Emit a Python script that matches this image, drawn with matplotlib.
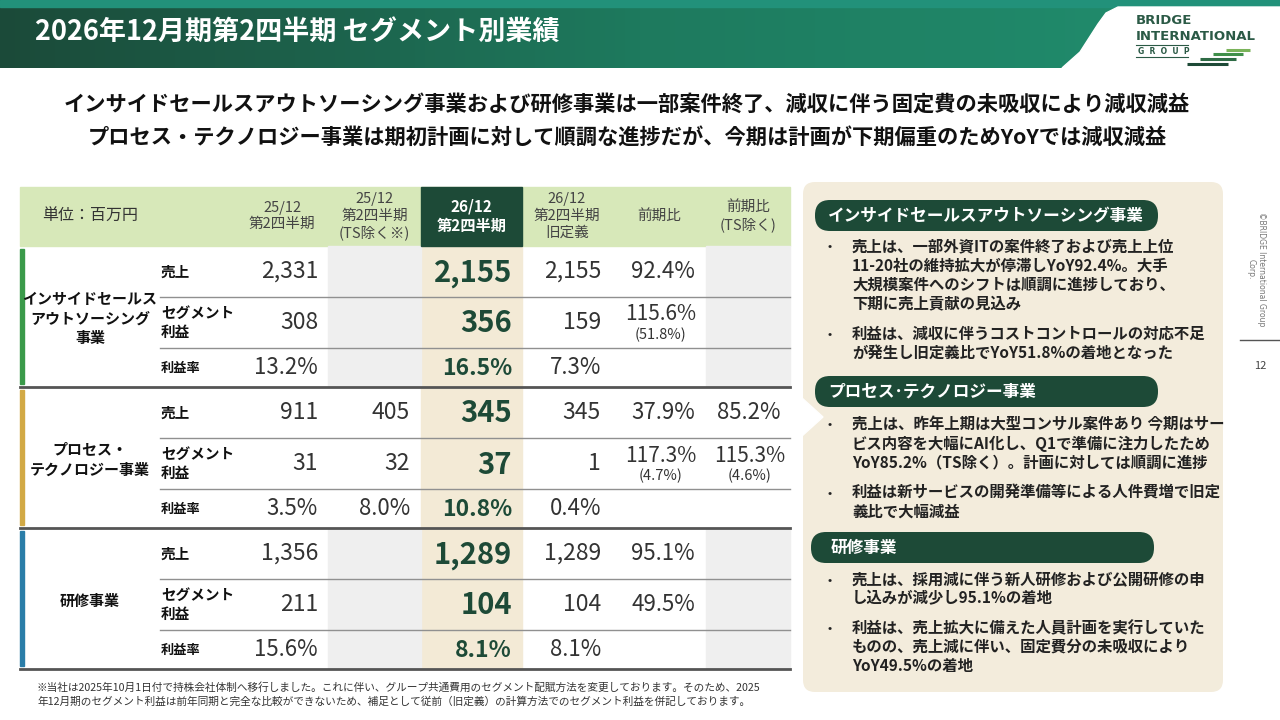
import numpy as np
import matplotlib.pyplot as plt
from matplotlib.patches import Rectangle, FancyBboxPatch, Polygon
from matplotlib.colors import LinearSegmentedColormap

plt.rcParams['font.family'] = ['Noto Sans CJK JP', 'DejaVu Sans']

# データ
title = '2026年12月期第2四半期 セグメント別業績'
subtitle = ['インサイドセールスアウトソーシング事業および研修事業は一部案件終了、減収に伴う固定費の未吸収により減収減益',
            'プロセス・テクノロジー事業は期初計画に対して順調な進捗だが、今期は計画が下期偏重のためYoYでは減収減益']

unit_label = '単位：百万円'
col_headers = ['25/12\n第2四半期', '25/12\n第2四半期\n(TS除く※)', '26/12\n第2四半期',
               '26/12\n第2四半期\n旧定義', '前期比', '前期比\n(TS除く)']
segments = ['インサイドセールス\nアウトソーシング\n事業', 'プロセス・\nテクノロジー事業', '研修事業']
row_labels = ['売上', 'セグメント\n利益', '利益率']

sales_prev = [2331, 911, 1356]
sales_prev_ts = [None, 405, None]
sales_cur = [2155, 345, 1289]
sales_old = [2155, 345, 1289]
profit_prev = [308, 31, 211]
profit_prev_ts = [None, 32, None]
profit_cur = [356, 37, 104]
profit_old = [159, 1, 104]
margin_prev = [13.2, 3.5, 15.6]
margin_prev_ts = [None, 8.0, None]
margin_cur = [16.5, 10.8, 8.1]
margin_old = [7.3, 0.4, 8.1]
yoy_sales = [92.4, 37.9, 95.1]
yoy_sales_ts = [None, 85.2, None]
yoy_profit = [115.6, 117.3, 49.5]
yoy_profit_old = [51.8, 4.7, None]
yoy_profit_ts = [None, 115.3, None]
yoy_profit_ts_old = [None, 4.6, None]

panel_titles = ['インサイドセールスアウトソーシング事業', 'プロセス･テクノロジー事業', '研修事業']
panel_bullets = [
    ['売上は、一部外資ITの案件終了および売上上位\n11-20社の維持拡大が停滞しYoY92.4%。大手\n大規模案件へのシフトは順調に進捗しており、\n下期に売上貢献の見込み',
     '利益は、減収に伴うコストコントロールの対応不足\nが発生し旧定義比でYoY51.8%の着地となった'],
    ['売上は、昨年上期は大型コンサル案件あり 今期はサー\nビス内容を大幅にAI化し、Q1で準備に注力したため\nYoY85.2%（TS除く）。計画に対しては順調に進捗',
     '利益は新サービスの開発準備等による人件費増で旧定\n義比で大幅減益'],
    ['売上は、採用減に伴う新人研修および公開研修の申\nし込みが減少し95.1%の着地',
     '利益は、売上拡大に備えた人員計画を実行していた\nものの、売上減に伴い、固定費分の未吸収により\nYoY49.5%の着地'],
]
footnote = ('※当社は2025年10月1日付で持株会社体制へ移行しました。これに伴い、グループ共通費用のセグメント配賦方法を変更しております。そのため、2025\n'
            '年12月期のセグメント利益は前年同期と完全な比較ができないため、補足として従前（旧定義）の計算方法でのセグメント利益を併記しております。')

# 色
dark_green = '#1d4a37'
head_green = '#d7e8b9'
beige = '#f3ead6'
gray_bg = '#efefef'
panel_bg = '#f3ecdc'
seg_colors = ['#3a9a4a', '#d2a945', '#2a7da8']


def fmt_int(v):
    return '' if v is None else f'{v:,}'


def fmt_pct(v):
    return '' if v is None else f'{v:.1f}%'


fig = plt.figure(figsize=(12.8, 7.2), dpi=100)
ax = fig.add_axes([0, 0, 1, 1])

# ヘッダー帯
cmap = LinearSegmentedColormap.from_list('hdr', ['#1b4a39', '#1e7a5e', '#219070'])
grad = np.linspace(0, 1, 256).reshape(1, -1)
ax.imshow(grad, extent=[0, 1280, 68, 0], aspect='auto', cmap=cmap, zorder=0)
ax.add_patch(Rectangle((0, 0), 1280, 7, color='#22917a', zorder=1))
logo_bg = Polygon([(1062, 68), (1080, 52), (1098, 24), (1106, 13), (1118, 7),
                   (1280, 7), (1280, 68)], closed=True, color='white', zorder=2)
ax.add_patch(logo_bg)
ax.text(35, 32, title, color='white', fontsize=19.5, fontweight='bold', va='center', zorder=3)

# ロゴ
logo_c = '#2b5a46'
ax.text(1136, 21, 'BRIDGE', color=logo_c, fontsize=9.5, fontweight='bold', va='center',
        family='DejaVu Sans')
ax.text(1136, 36, 'INTERNATIONAL', color=logo_c, fontsize=9.5, fontweight='bold', va='center',
        family='DejaVu Sans')
ax.plot([1136, 1188], [45, 45], color=logo_c, lw=0.8)
ax.text(1138, 51, 'G  R  O  U  P', color=logo_c, fontsize=5.5, fontweight='bold', va='center',
        family='DejaVu Sans')
ax.plot([1136, 1188], [57, 57], color=logo_c, lw=0.8)
for (x0, x1, y, c) in [(1226, 1250, 50, '#7ab35a'), (1213, 1243, 54, '#3f8f4a'),
                       (1200, 1236, 59, '#2e6b45'), (1187, 1228, 64, '#1e4a37')]:
    ax.plot([x0, x1], [y, y], color=c, lw=2.2, solid_capstyle='butt')

# サブタイトル
ax.text(627, 104, subtitle[0], fontsize=15.3, fontweight='bold', ha='center', va='center', color='#111')
ax.text(627, 137, subtitle[1], fontsize=15.3, fontweight='bold', ha='center', va='center', color='#111')

# 表
col_edges = [20, 160, 236, 328, 421, 522, 612, 706, 790]
head_top, head_bot = 187, 246
row_h = [51, 51, 39]
seg_h = sum(row_h)

ax.add_patch(Rectangle((20, head_top), 770, head_bot - head_top, color=head_green, zorder=1))
ax.add_patch(Rectangle((421, head_top), 101, head_bot - head_top, color=dark_green, zorder=2))
ax.add_patch(Rectangle((421, head_bot), 101, seg_h * 3, color=beige, zorder=1))

ax.text(90, 216, unit_label, fontsize=11.5, ha='center', va='center', color='#333')
for i, h in enumerate(col_headers):
    cx = (col_edges[i + 2] + col_edges[i + 3]) / 2
    if i == 2:
        ax.text(cx, 216, h, fontsize=11, ha='center', va='center', color='white',
                fontweight='bold', linespacing=1.25, zorder=3)
    else:
        ax.text(cx, 216, h, fontsize=10.5, ha='center', va='center', color='#444',
                linespacing=1.25, zorder=3)

right_x = [318, 410, 512, 601, 695, 780]
for s in range(3):
    top = head_bot + s * seg_h
    # 空欄の列はグレー
    if sales_prev_ts[s] is None:
        ax.add_patch(Rectangle((328, top), 93, seg_h, color=gray_bg, zorder=1))
    if yoy_sales_ts[s] is None:
        ax.add_patch(Rectangle((706, top), 84, seg_h, color=gray_bg, zorder=1))
    ax.add_patch(Rectangle((20, top + 3), 4, seg_h - 6, color=seg_colors[s], zorder=2))
    ax.text(90, top + seg_h / 2 + 2, segments[s], fontsize=10.8, fontweight='bold', ha='center',
            va='center', linespacing=1.3, color='#111', zorder=3)

    rows = [
        [fmt_int(sales_prev[s]), fmt_int(sales_prev_ts[s]), fmt_int(sales_cur[s]),
         fmt_int(sales_old[s]), fmt_pct(yoy_sales[s]), fmt_pct(yoy_sales_ts[s])],
        [fmt_int(profit_prev[s]), fmt_int(profit_prev_ts[s]), fmt_int(profit_cur[s]),
         fmt_int(profit_old[s]), fmt_pct(yoy_profit[s]), fmt_pct(yoy_profit_ts[s])],
        [fmt_pct(margin_prev[s]), fmt_pct(margin_prev_ts[s]), fmt_pct(margin_cur[s]),
         fmt_pct(margin_old[s]), '', ''],
    ]
    subs = [yoy_profit_old[s], yoy_profit_ts_old[s]]
    y = top
    for r in range(3):
        cy = y + row_h[r] / 2
        lbl_size = 10.5 if r < 2 else 9.5
        ax.text(161, cy, row_labels[r], fontsize=lbl_size, fontweight='bold', va='center',
                color='#111', linespacing=1.3, zorder=3)
        for c, val in enumerate(rows[r]):
            if not val:
                continue
            if c == 2:
                size = 21 if r < 2 else 16.5
                ax.text(right_x[c], cy + 1, val, fontsize=size, fontweight='bold', ha='right',
                        va='center', color=dark_green, zorder=3)
            elif r == 1 and c >= 4 and subs[c - 4] is not None:
                cx = (col_edges[c + 2] + col_edges[c + 3]) / 2
                ax.text(cx + 2, cy - 8, val, fontsize=15, ha='center', va='center',
                        color='#333', zorder=3)
                ax.text(cx + 2, cy + 12, '(' + fmt_pct(subs[c - 4]) + ')', fontsize=10.5,
                        ha='center', va='center', color='#333', zorder=3)
            else:
                size = 16 if c >= 4 or r == 2 else 16.5
                ax.text(right_x[c], cy, val, fontsize=size, ha='right', va='center',
                        color='#333', zorder=3)
        y += row_h[r]
        if r < 2:
            ax.plot([160, 790], [y, y], color='#909090', lw=1, zorder=4)
    ax.plot([20, 790], [top + seg_h, top + seg_h], color='#555', lw=2, zorder=4)

ax.text(37, 694, footnote, fontsize=7.7, va='center', color='#333', linespacing=1.4)

# 右パネル
ax.add_patch(FancyBboxPatch((803, 182), 420, 510, boxstyle='round,pad=0,rounding_size=12',
                            facecolor=panel_bg, edgecolor='none', zorder=1))
ax.add_patch(Polygon([(802, 398), (823, 417), (802, 436)], closed=True, color='white', zorder=2))

pill_y = [200, 376, 532]
bullet_y0 = [247, 425, 580]
for k in range(3):
    px = 815 if k < 2 else 811
    ax.add_patch(FancyBboxPatch((px, pill_y[k]), 343, 31, boxstyle='round,pad=0,rounding_size=15',
                                facecolor=dark_green, edgecolor='none', zorder=2))
    ax.text(px + 13 if k < 2 else px + 20, pill_y[k] + 15.5, panel_titles[k], fontsize=12,
            fontweight='bold', color='white', va='center', zorder=3)
    y = bullet_y0[k]
    for b in panel_bullets[k]:
        n = b.count('\n') + 1
        ax.text(827, y, '•', fontsize=9, color='#222', va='center', zorder=3)
        ax.text(852, y - 9, b, fontsize=11.1, fontweight='bold', color='#222', va='top',
                linespacing=1.25, zorder=3)
        y += n * 19.4 + 10

# 右端
ax.text(1256, 212, '©BRIDGE International Group\nCorp.', fontsize=5.5, color='#777', rotation=-90,
        ha='center', va='top', family='DejaVu Sans')
ax.plot([1240, 1280], [340, 340], color='#555', lw=1)
ax.text(1260, 366, '12', fontsize=8, color='#444', ha='center', va='center')

ax.set_xlim(0, 1280)
ax.set_ylim(720, 0)
ax.axis('off')
fig.savefig('out.png', dpi=100)
